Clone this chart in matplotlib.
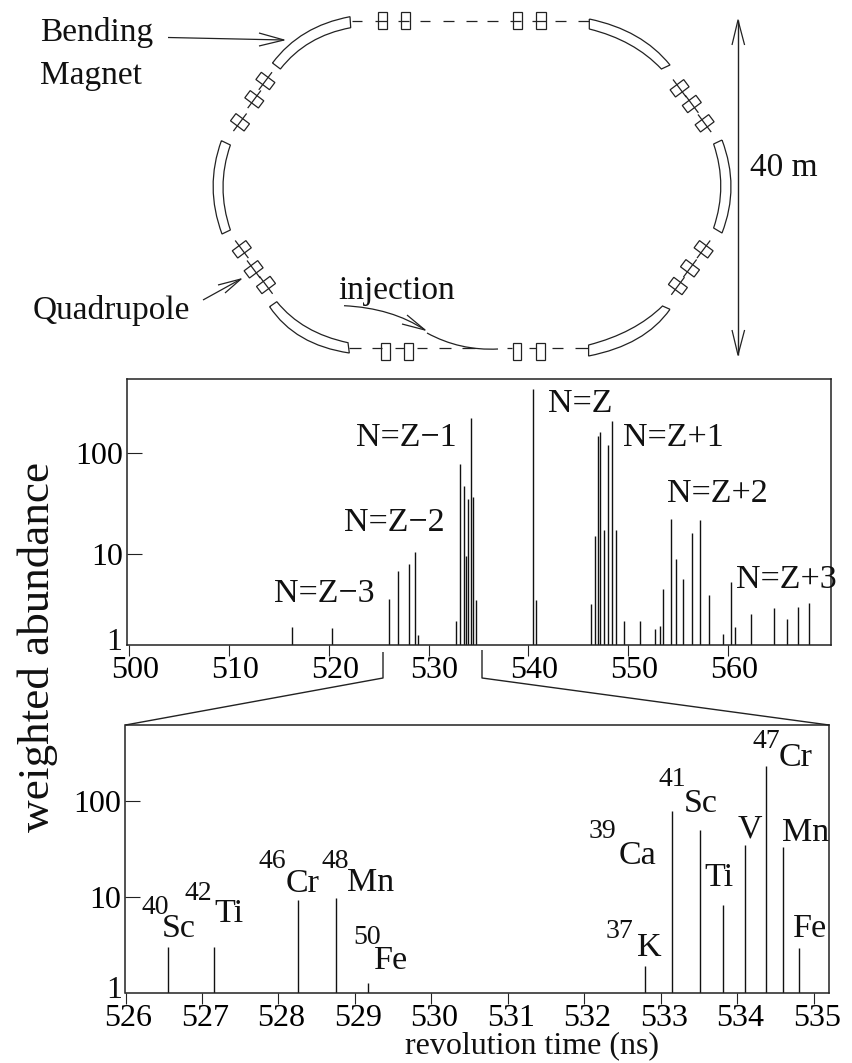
import numpy as np
import matplotlib
matplotlib.use("Agg")
import matplotlib.pyplot as plt
from matplotlib.path import Path
from matplotlib.patches import PathPatch, Polygon
from matplotlib.transforms import ScaledTranslation

plt.rcParams['font.family'] = ['Liberation Serif', 'DejaVu Sans']
W, H = 852, 1063

# ---- top spectrum
top_time = [516.3, 520.35, 526.0, 526.9, 528.0, 528.6, 528.9, 532.75, 533.1, 533.5, 533.7, 533.9, 534.2,
            534.4, 534.7, 540.5, 540.8, 546.3, 546.7, 547.0, 547.2, 547.6, 548.0, 548.4, 548.8, 549.6,
            551.2, 552.7, 553.2, 553.5, 554.3, 554.8, 555.5, 556.4, 557.2, 558.1, 559.5, 560.3, 560.7,
            562.3, 564.6, 565.9, 567.0, 568.1]
top_abund = [1.92, 1.86, 3.6, 6.8, 8.0, 10.5, 1.6, 2.2, 78, 47, 9.5, 35, 224,
             37, 3.5, 428, 3.5, 3.2, 15, 146, 163, 17.4, 119, 207, 17.4, 2.2,
             2.17, 1.8, 1.95, 4.5, 22.5, 8.9, 5.7, 16, 22, 3.9, 1.63, 5.3, 1.92,
             2.56, 2.94, 2.3, 3.0, 3.3]
top_xticks = [500, 510, 520, 530, 540, 550, 560]
top_groups = ["N=Z\u22123", "N=Z\u22122", "N=Z\u22121", "N=Z", "N=Z+1", "N=Z+2", "N=Z+3"]

# ---- bottom spectrum
bot_time = [526.55, 527.16, 528.26, 528.75, 529.17, 532.79, 533.15, 533.51, 533.82, 534.10, 534.37, 534.60, 534.81]
bot_abund = [3.0, 3.0, 9.4, 9.8, 1.27, 1.9, 79, 50, 8.3, 35, 233, 33, 2.94]
bot_xticks = [526, 527, 528, 529, 530, 531, 532, 533, 534, 535]
y_ticks = [10, 100]


def axes_px(l, t, r, b):
    return fig.add_axes([l / W, 1 - b / H, (r - l) / W, (b - t) / H])


fig = plt.figure(figsize=(W / 100, H / 100), dpi=100, facecolor='white')

ax1 = axes_px(127, 379, 831, 645)
ax1.vlines(top_time, 1.26, top_abund, color='#111111', lw=1.0)
ax1.set_xlim(499.8, 570.3)
ax1.set_yscale('log')
ax1.set_ylim(1.26, 541)

ax2 = axes_px(125.5, 725, 829, 993)
ax2.vlines(bot_time, 1, bot_abund, color='#111111', lw=1.0)
ax2.set_xlim(526.0, 535.2)
ax2.set_yscale('log')
ax2.set_ylim(1, 620)

for ax, xt, shift in ((ax1, top_xticks, 6), (ax2, bot_xticks, 3)):
    ax.set_xticks(xt)
    ax.set_xticklabels([str(v) for v in xt])
    ax.set_yticks(y_ticks)
    ax.set_yticklabels([str(v) for v in y_ticks])
    ax.minorticks_off()
    ax.tick_params(axis='x', direction='out', length=8, width=0.8, labelsize=23, pad=0, color='#222222')
    ax.tick_params(axis='y', direction='in', length=11, width=0.8, labelsize=23, pad=3, color='#222222')
    for s in ax.spines.values():
        s.set_linewidth(1.1)
        s.set_color('#222222')
    for lab in ax.get_xticklabels():
        lab.set_transform(lab.get_transform() + ScaledTranslation(shift / 100, 0, fig.dpi_scale_trans))

# ---- overlay in pixel coordinates for the schematic and annotations
ov = fig.add_axes([0, 0, 1, 1], zorder=5)
ov.set_xlim(0, W)
ov.set_ylim(H, 0)
ov.axis('off')
ov.patch.set_alpha(0)

LC = '#222222'
LW = 0.9


def line(xs, ys, lw=LW):
    ov.plot(xs, ys, color=LC, lw=lw, solid_capstyle='butt')


def label(x, y, s, size=24.5):
    ov.text(x, y, s, fontsize=size, ha='center', va='center', color='#111111')


# bending magnets: outer(start, ctrl, end), inner(start, ctrl, end)
magnets = [
    ((272.5, 63), (300, 26), (350, 16.7), (280.4, 69), (306, 36), (350.7, 27.7)),
    ((589.3, 19), (642, 30), (670, 65), (589.3, 29), (634, 40), (661.4, 69)),
    ((722, 140), (740, 187), (722, 233), (713.6, 144), (728, 186), (713.6, 228)),
    ((221.4, 140.7), (204.5, 187), (222, 234), (230.4, 145), (215.6, 187), (230.4, 230)),
    ((269.6, 306.7), (295, 345), (349.3, 353), (276.8, 301.7), (302, 333), (348, 342.7)),
    ((670, 309.3), (645, 345), (588.6, 356), (662.5, 306), (635, 333), (588.6, 345)),
]
for a, b, c, d, e, f in magnets:
    verts = [a, b, c, f, e, d, a]
    codes = [Path.MOVETO, Path.CURVE3, Path.CURVE3, Path.LINETO, Path.CURVE3, Path.CURVE3, Path.LINETO]
    ov.add_patch(PathPatch(Path(verts, codes), fc='white', ec=LC, lw=LW))

# straight-section dashes: (x0, x1) pairs
top_dashes = [(352, 362), (375, 387), (398, 409), (420, 430), (443, 454), (466, 477), (487, 498), (510, 521),
              (532, 546), (555, 566), (578, 589)]
bot_dashes = [(349, 361), (372, 382), (395, 404), (417, 427), (439, 451), (462, 475), (507, 512), (529, 536),
              (552, 563), (575, 588)]
for x0, x1 in top_dashes:
    line([x0, x1], [21, 21])
for x0, x1 in bot_dashes:
    line([x0, x1], [348, 348])

# straight-section quadrupoles (left, right)
top_rects = [(378, 387), (400.7, 410), (513, 522), (536, 545.7)]
bot_rects = [(381.4, 390), (404, 413), (512.5, 521.4), (536.4, 545.4)]
for x0, x1 in top_rects:
    ov.add_patch(Polygon([(x0, 12), (x1, 12), (x1, 29), (x0, 29)], closed=True, fc='none', ec=LC, lw=LW))
for x0, x1 in bot_rects:
    ov.add_patch(Polygon([(x0, 343), (x1, 343), (x1, 360), (x0, 360)], closed=True, fc='none', ec=LC, lw=LW))

# diagonal quadrupoles: centre + beam direction
diag_groups = [
    ([(265.4, 81), (254.3, 99.3), (240, 122.3)], (0.6, -0.8)),
    ([(679.6, 88.3), (691.8, 104), (704.6, 123.3)], (0.6, 0.8)),
    ([(703.6, 249.3), (690, 268.3), (677.9, 286)], (0.6, -0.8)),
    ([(241.8, 249.3), (253.6, 269.3), (266, 285)], (0.6, 0.8)),
]
for centres, (dx, dy) in diag_groups:
    nx, ny = -dy, dx
    for cx, cy in centres:
        hl, hw = 4.5, 8.5
        pts = [(cx + sx * hl * dx + sy * hw * nx, cy + sx * hl * dy + sy * hw * ny)
               for sx, sy in ((-1, -1), (1, -1), (1, 1), (-1, 1))]
        ov.add_patch(Polygon(pts, closed=True, fc='none', ec=LC, lw=LW))
        line([cx - 11 * dx, cx + 11 * dx], [cy - 11 * dy, cy + 11 * dy])

# arrows
line([168, 284], [37.5, 40])
line([259, 284, 259], [33, 40, 46])
line([203, 241], [300, 279])
line([218, 241, 225], [285, 279, 293])
line([738, 738], [20, 355], lw=1.0)
line([732, 738, 744.6], [45, 20, 45])
line([732, 738, 744.6], [330, 355, 330])

# injection trajectory
ov.add_patch(PathPatch(Path([(344, 305.7), (392, 308), (425, 330)], [Path.MOVETO, Path.CURVE3, Path.CURVE3]),
                       fc='none', ec=LC, lw=LW))
ov.add_patch(PathPatch(Path([(427, 333), (460, 351), (498, 349)], [Path.MOVETO, Path.CURVE3, Path.CURVE3]),
                       fc='none', ec=LC, lw=LW))
line([407, 425, 402], [315, 330, 324])

# schematic texts
ov.text(40, 33, "Bending", fontsize=24, ha='left', va='center', color='#111111')
ov.text(40, 76, "Magnet", fontsize=24, ha='left', va='center', color='#111111')
ov.text(33, 311, "Quadrupole", fontsize=24, ha='left', va='center', color='#111111')
ov.text(338, 291, "injection", fontsize=24, ha='left', va='center', color='#111111')
ov.text(750, 168, "40 m", fontsize=24, ha='left', va='center', color='#111111')

# top spectrum group labels
group_pos = [(324, 594), (394, 523), (406, 438), (580, 404), (673.5, 438), (717.7, 494), (786, 580)]
for (x, y), s in zip(group_pos, top_groups):
    label(x, y, s)

# the "1" tick labels sit at the baseline of each panel
label(114, 643, "1", 23)
label(114, 990, "1", 23)

# zoom connector
line([383, 383, 125.5], [652, 678, 725], lw=1.0)
line([482, 482, 829], [650, 678, 725], lw=1.0)

# isotopes: (text, x, y)
sup_labels = [("40", 155, 907), ("42", 198, 893), ("46", 272, 862), ("48", 335, 861), ("50", 367, 938),
              ("37", 619, 931), ("39", 602, 832), ("41", 672, 780), ("47", 766, 741)]
el_labels = [("Sc", 179, 929), ("Ti", 229, 914), ("Cr", 303, 884), ("Mn", 371, 883), ("Fe", 391, 961),
             ("K", 649, 948), ("Ca", 638, 856), ("Sc", 701, 804), ("Ti", 719, 878), ("V", 750, 829),
             ("Cr", 796, 758), ("Mn", 806, 833), ("Fe", 810, 929)]
for s, x, y in sup_labels:
    label(x, y, s, 20)
for s, x, y in el_labels:
    label(x, y, s, 24.5)

# axis titles
ov.text(38, 647, "weighted abundance", fontsize=32.5, rotation=90, ha='center', va='center', color='#111111')
ov.text(532, 1046, "revolution time (ns)", fontsize=23, ha='center', va='center', color='#111111')

fig.savefig('out.png', dpi=100, facecolor='white')
